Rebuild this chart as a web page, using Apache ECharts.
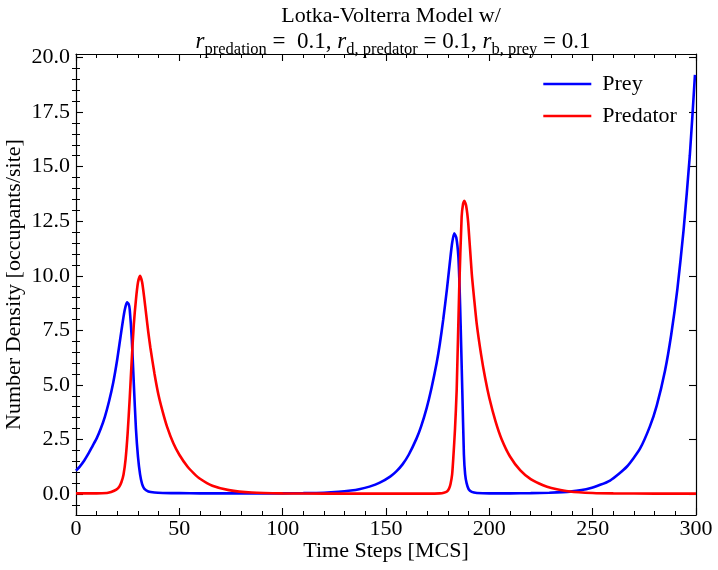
<!DOCTYPE html>
<html>
<head>
<meta charset="utf-8">
<script src="https://cdn.jsdelivr.net/npm/echarts@6/dist/echarts.min.js"></script>
<style>
  html, body { margin: 0; padding: 0; background: #fff; }
  #main { width: 718px; height: 570px; }
</style>
</head>
<body>
<div id="main"></div>
<script>
// prey density vs time
const preyTime = [0, 2, 4, 6, 8, 10, 12, 14, 16, 18, 20, 22, 23.5, 24.7, 25.5, 26, 27, 28, 29, 30, 31, 32, 33, 35, 38, 42, 50, 60, 80, 100, 110, 120, 127, 133, 137, 142, 147, 152, 155, 158, 161, 164.8, 167, 169.7, 172, 174.5, 176, 177.7, 179.5, 181, 182, 183, 184, 185, 185.6, 186.1, 186.9, 187.7, 188.3, 189, 190, 191.5, 194, 200, 210, 220, 229, 239, 248.7, 258.4, 266.5, 272.9, 277.7, 281, 285, 288, 291, 294, 297, 299.5]
const preyValues = [1.07, 1.28, 1.54, 1.85, 2.2, 2.55, 3.0, 3.55, 4.25, 5.1, 6.2, 7.5, 8.4, 8.78, 8.7, 8.45, 7.1, 5.0, 3.0, 1.7, 0.9, 0.45, 0.25, 0.12, 0.07, 0.05, 0.04, 0.03, 0.03, 0.03, 0.04, 0.06, 0.1, 0.16, 0.22, 0.34, 0.52, 0.8, 1.04, 1.36, 1.8, 2.55, 3.1, 3.95, 4.85, 6.0, 6.85, 8.0, 9.4, 10.7, 11.5, 11.95, 11.75, 10.9, 9.5, 7.8, 4.8, 1.8, 0.9, 0.5, 0.22, 0.1, 0.05, 0.03, 0.03, 0.04, 0.06, 0.11, 0.26, 0.62, 1.25, 2.08, 3.1, 4.05, 5.65, 7.3, 9.4, 12.1, 15.5, 19.2]

// predator density vs time
const predTime = [0, 10, 15, 17, 19.5, 21, 22, 23, 24, 25, 26, 27, 28, 29, 30, 31, 32, 33, 34, 35, 36, 38, 40, 42, 44, 47, 50, 54, 57, 60, 66, 74, 85, 100, 120, 150, 170, 176, 178, 179.5, 180.5, 181.2, 182, 182.6, 183.4, 184.2, 185.4, 186.6, 187.3, 187.9, 188.8, 189.8, 191.5, 192.7, 193.9, 196, 198, 200, 203, 206, 210, 215, 220, 226, 230, 239, 250, 260, 280, 300]
const predValues = [0.03, 0.03, 0.05, 0.09, 0.2, 0.35, 0.55, 0.9, 1.6, 2.8, 4.4, 6.2, 7.8, 8.9, 9.7, 10.0, 9.7, 9.0, 8.2, 7.4, 6.7, 5.5, 4.5, 3.75, 3.1, 2.35, 1.8, 1.25, 0.95, 0.7, 0.38, 0.18, 0.07, 0.03, 0.02, 0.02, 0.02, 0.03, 0.06, 0.12, 0.25, 0.45, 0.9, 1.7, 3.0, 4.76, 9.3, 12.7, 13.3, 13.43, 13.2, 12.4, 10.1, 8.9, 7.8, 6.4, 5.3, 4.4, 3.33, 2.5, 1.72, 1.08, 0.68, 0.4, 0.28, 0.12, 0.05, 0.03, 0.02, 0.02]

// y tick labels
const yMajorTicks = [0, 2.5, 5, 7.5, 10, 12.5, 15, 17.5, 20]

const FONT = 'Liberation Serif'
const yMin = -0.96
const yMax = 20.16

// minor ticks every 0.5 inside the range
const yMinorTicks = []
for (let v = -0.5; v <= yMax; v += 0.5) {
  const r = Math.round(v * 10) / 10
  if (yMajorTicks.indexOf(r) < 0) yMinorTicks.push(r)
}

const zip = (xs, ys) => xs.map((x, i) => [x, ys[i]])

const chart = echarts.init(document.getElementById('main'), null, { renderer: 'canvas' })

const xBase = {
  type: 'value',
  min: 0,
  max: 300,
  interval: 50,
  splitLine: { show: false },
  axisLine: { show: true, onZero: false, lineStyle: { color: '#000', width: 1.2 } },
  axisTick: { show: true, inside: true, length: 7, lineStyle: { color: '#000', width: 1.1 } },
  minorTick: { show: true, splitNumber: 5, length: 4, lineStyle: { color: '#000', width: 1 } },
  minorSplitLine: { show: false }
}

const yBase = {
  type: 'value',
  min: yMin,
  max: yMax,
  splitLine: { show: false },
  axisLine: { show: false },
  axisLabel: { show: false }
}

const txt = { fontFamily: FONT, fontWeight: 'normal', color: '#000' }

const option = {
  animation: false,
  backgroundColor: '#fff',
  title: [
    {
      text: 'Lotka-Volterra Model w/',
      left: 386,
      top: 0,
      textAlign: 'center',
      textStyle: Object.assign({ fontSize: 22 }, txt)
    },
    {
      text: '{it|r}{sub|predation}{n| =  0.1, }{it|r}{sub|d, predator}{n| = 0.1, }{it|r}{sub|b, prey}{n| = 0.1}',
      left: 388,
      top: 25,
      textAlign: 'center',
      textStyle: {
        fontWeight: 'normal',
        rich: {
          it: Object.assign({ fontStyle: 'italic', fontSize: 23, verticalAlign: 'bottom', padding: [0, 0, 5, 0] }, txt),
          n: Object.assign({ fontSize: 23, verticalAlign: 'bottom', padding: [0, 0, 5, 0] }, txt),
          sub: Object.assign({ fontSize: 16.5, verticalAlign: 'bottom' }, txt)
        }
      }
    }
  ],
  legend: {
    orient: 'vertical',
    left: 537,
    top: 68,
    itemWidth: 48,
    itemHeight: 14,
    itemGap: 10,
    itemStyle: { opacity: 0 },
    lineStyle: { width: 2.6 },
    textStyle: Object.assign({ fontSize: 22, padding: [0, 0, 0, 6] }, txt),
    data: ['Prey', 'Predator']
  },
  grid: { left: 76, right: 22, top: 54, bottom: 55, containLabel: false, outerBoundsMode: 'none' },
  xAxis: [
    Object.assign({}, xBase, {
      position: 'bottom',
      name: 'Time Steps [MCS]',
      nameLocation: 'middle',
      nameGap: 25,
      nameMoveOverlap: false,
      nameTextStyle: Object.assign({ fontSize: 22 }, txt),
      axisLabel: Object.assign({ show: true, margin: 3, fontSize: 22 }, txt)
    }),
    Object.assign({}, xBase, {
      position: 'top',
      axisLabel: { show: false }
    })
  ],
  yAxis: [
    Object.assign({}, yBase, {
      position: 'left',
      name: 'Number Density [occupants/site]',
      nameLocation: 'middle',
      nameGap: 51,
      nameMoveOverlap: false,
      nameTextStyle: Object.assign({ fontSize: 22 }, txt),
      axisLine: { show: true, onZero: false, lineStyle: { color: '#000', width: 1.2 } },
      axisLabel: Object.assign({
        show: true, margin: 6, fontSize: 22,
        customValues: yMajorTicks,
        formatter: v => v.toFixed(1)
      }, txt),
      axisTick: { show: true, inside: true, length: 7, customValues: yMajorTicks, lineStyle: { color: '#000', width: 1.1 } }
    }),
    Object.assign({}, yBase, {
      position: 'left',
      axisTick: { show: true, inside: true, length: 4, customValues: yMinorTicks, lineStyle: { color: '#000', width: 1 } }
    }),
    Object.assign({}, yBase, {
      position: 'right',
      axisLine: { show: true, onZero: false, lineStyle: { color: '#000', width: 1.2 } },
      axisTick: { show: true, inside: true, length: 7, customValues: yMajorTicks, lineStyle: { color: '#000', width: 1.1 } }
    }),
    Object.assign({}, yBase, {
      position: 'right',
      axisTick: { show: true, inside: true, length: 4, customValues: yMinorTicks, lineStyle: { color: '#000', width: 1 } }
    })
  ],
  series: [
    {
      name: 'Prey',
      type: 'line',
      xAxisIndex: 0,
      yAxisIndex: 0,
      symbol: 'none',
      smooth: 0.2,
      color: '#0000ff',
      lineStyle: { color: '#0000ff', width: 2.6 },
      data: zip(preyTime, preyValues)
    },
    {
      name: 'Predator',
      type: 'line',
      xAxisIndex: 0,
      yAxisIndex: 0,
      symbol: 'none',
      smooth: 0.2,
      color: '#ff0000',
      lineStyle: { color: '#ff0000', width: 2.6 },
      data: zip(predTime, predValues)
    }
  ]
}

chart.setOption(option)
</script>
</body>
</html>
